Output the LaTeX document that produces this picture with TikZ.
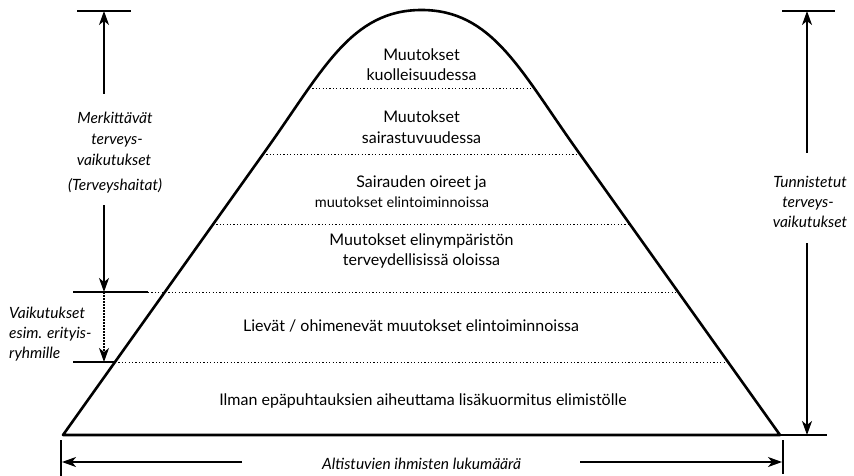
\documentclass[tikz,border=0pt]{standalone}
\usepackage{fontspec}
\setmainfont{Lato}
\usetikzlibrary{arrows.meta}
\begin{document}
\begin{tikzpicture}[x=1pt,y=-1pt,
  outline/.style={line width=2.6pt, line join=round},
  dimarrow/.style={line width=1.5pt,-{Stealth[length=14pt,width=10pt,inset=4pt]}},
  dotarrow/.style={line width=1.5pt,dash pattern=on 1.5pt off 1.5pt,-{Stealth[length=14pt,width=10pt,inset=4pt]}},
  tickline/.style={line width=1.5pt},
  dotline/.style={line width=0.9pt, dash pattern=on 1.2pt off 2.2pt},
  lvl/.style={font=\fontsize{16}{19}\selectfont, anchor=base, inner sep=0pt},
  lvlsmall/.style={font=\fontsize{14.5}{17}\selectfont, anchor=base, inner sep=0pt},
  note/.style={font=\itshape\fontsize{15.5}{18}\selectfont, anchor=base, inner sep=0pt},
  notel/.style={note, anchor=base west}]
\useasboundingbox (0,0) rectangle (854,476);
\fill[white] (0,0) rectangle (854,476);

% pyramid
\coordinate (bl) at (63,435);
\coordinate (br) at (780,435);
\coordinate (pl) at (266,150);
\coordinate (pr) at (577,150);
\coordinate (apex) at (421.5,10);
\draw[outline] (bl) -- (pl) .. controls (323,70) and (351,10) .. (apex)
  .. controls (492,10) and (520,70) .. (pr) -- (br) -- cycle;

% level separators
\coordinate (d1l) at (309,88);  \coordinate (d1r) at (534,88);
\coordinate (d2l) at (263,154); \coordinate (d2r) at (580,154);
\coordinate (d3l) at (213,224); \coordinate (d3r) at (630,224);
\coordinate (d4l) at (148,292); \coordinate (d4r) at (679,292);
\coordinate (d5l) at (115,362); \coordinate (d5r) at (728,362);
\draw[dotline] (d1l) -- (d1r);
\draw[dotline] (d2l) -- (d2r);
\draw[dotline] (d3l) -- (d3r);
\draw[dotline] (d4l) -- (d4r);
\draw[dotline] (d5l) -- (d5r);

% level texts
\node[lvl] (t1a) at (421.5,61) {Muutokset};
\node[lvl] (t1b) at (421.5,81) {kuolleisuudessa};
\node[lvl] (t2a) at (421.5,123) {Muutokset};
\node[lvl] (t2b) at (421.5,143) {sairastuvuudessa};
\node[lvl] (t3a) at (421.5,187) {Sairauden oireet ja};
\node[lvlsmall] (t3b) at (402,207) {muutokset elintoiminnoissa};
\node[lvl] (t4a) at (421.5,245) {Muutokset elinympäristön};
\node[lvl] (t4b) at (421.5,265) {terveydellisissä oloissa};
\node[lvl] (t5) at (411,331) {Lievät / ohimenevät muutokset elintoiminnoissa};
\node[lvl] (t6) at (423,405) {Ilman epäpuhtauksien aiheuttama lisäkuormitus elimistölle};

% left dimension: Merkittävät terveysvaikutukset
\coordinate (lt1) at (77,11);  \coordinate (lt2) at (131,11);
\draw[tickline] (lt1) -- (lt2);
\coordinate (la) at (104,11);
\coordinate (la0) at (104,94);
\draw[dimarrow] (la0) -- (la);
\node[note] (m1) at (115,124) {Merkittävät};
\node[note] (m2) at (117,145) {terveys-};
\node[note] (m3) at (114,165) {vaikutukset};
\node[note] (m4) at (115,190) {(Terveyshaitat)};
\coordinate (lb0) at (104,205);
\coordinate (lb) at (104,292);
\draw[dimarrow] (lb0) -- (lb);
\coordinate (lk1) at (73,292);
\draw[tickline] (lk1) -- (d4l);
\coordinate (lk2) at (73,362);
\draw[tickline] (lk2) -- (d5l);
\coordinate (lc) at (104,362);
\draw[dotarrow] (lb) -- (lc);
\node[notel] (v1) at (9,318) {Vaikutukset};
\node[notel] (v2) at (9,338) {esim. erityis-};
\node[notel] (v3) at (9,358) {ryhmille};

% right dimension: Tunnistetut terveysvaikutukset
\coordinate (rt1) at (782,11); \coordinate (rt2) at (835,11);
\draw[tickline] (rt1) -- (rt2);
\coordinate (ra) at (807,11);
\coordinate (ra0) at (807,153);
\draw[dimarrow] (ra0) -- (ra);
\node[note] (r1) at (810,187) {Tunnistetut};
\node[note] (r2) at (808,207) {terveys-};
\node[note] (r3) at (810,227) {vaikutukset};
\coordinate (rb0) at (807,243);
\coordinate (rb) at (807,435);
\draw[dimarrow] (rb0) -- (rb);
\coordinate (rk2) at (827,435);
\draw[tickline] (br) -- (rk2);

% bottom dimension
\coordinate (bt1a) at (61,440); \coordinate (bt1b) at (61,476);
\coordinate (bt2a) at (783,440); \coordinate (bt2b) at (783,474);
\draw[tickline] (bt1a) -- (bt1b);
\draw[tickline] (bt2a) -- (bt2b);
\coordinate (ba0) at (242,462); \coordinate (ba) at (62,462);
\coordinate (bb0) at (580,462); \coordinate (bb) at (782,462);
\draw[dimarrow] (ba0) -- (ba);
\draw[dimarrow] (bb0) -- (bb);
\node[note] (bl1) at (421.5,469) {Altistuvien ihmisten lukumäärä};
\end{tikzpicture}
\end{document}
